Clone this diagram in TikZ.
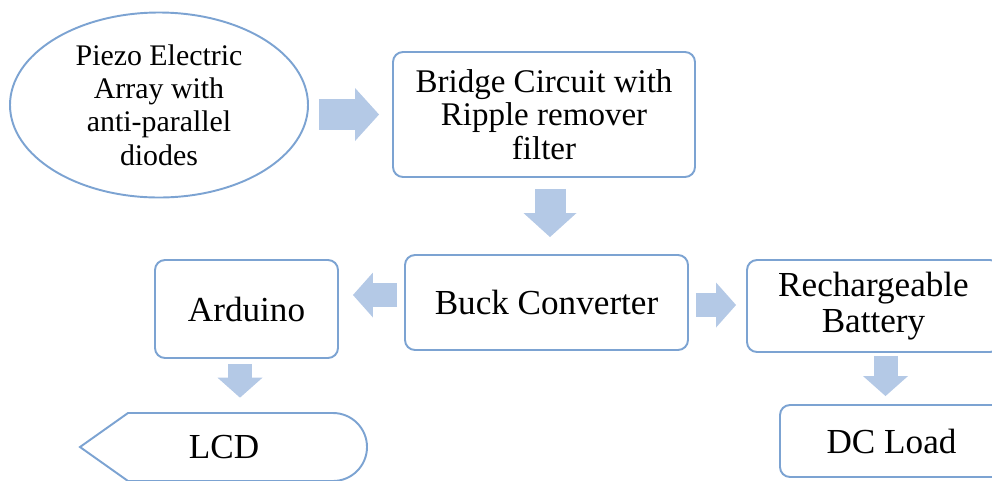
\documentclass[tikz,border=0pt]{standalone}
\usepackage{fontspec}
\setmainfont{Liberation Serif}
\usetikzlibrary{shapes.geometric,arrows.meta}
\definecolor{boxblue}{RGB}{124,163,210}
\definecolor{arrowblue}{RGB}{180,201,230}
\begin{document}
\begin{tikzpicture}[
    block/.style={draw=boxblue,line width=1.1pt,rectangle,rounded corners=0.2cm,align=center,inner sep=0pt,font=\fontsize{20}{19}\selectfont},
    flow/.style={draw=arrowblue,line width=0.48cm,-{Triangle[width=0.9cm,length=0.4cm,line width=0pt,fill=arrowblue]}},
    flow big/.style={draw=arrowblue,line width=0.62cm,-{Triangle[width=1.06cm,length=0.48cm,line width=0pt,fill=arrowblue]}}
  ]
        \useasboundingbox (0,0) rectangle (19.84,-9.6);
        %% Source
        \node[draw=boxblue,line width=1.1pt,ellipse,minimum width=5.96cm,minimum height=3.7cm,inner sep=0pt,align=center,font=\fontsize{17}{19}\selectfont] (piezo) at (3.18,-2.10) {Piezo Electric\\Array with\\anti-parallel\\diodes};
        %% Blocks
        \node[block,minimum width=6.04cm,minimum height=2.5cm,font=\fontsize{18.8}{19}\selectfont] (bridge) at (10.88,-2.29) {Bridge Circuit with\\Ripple remover\\filter};
        \node[block,minimum width=5.66cm,minimum height=1.9cm] (buck) at (10.93,-6.05) {Buck Converter};
        \node[block,minimum width=3.66cm,minimum height=1.96cm] (arduino) at (4.93,-6.18) {Arduino};
        \node[block,minimum width=5.06cm,minimum height=1.84cm,font=\fontsize{20}{20.5}\selectfont] (battery) at (17.47,-6.12) {Rechargeable\\Battery};
        \node[block,minimum width=4.46cm,minimum height=1.44cm] (dcload) at (17.83,-8.82) {DC Load};
        %% Display
        \draw[draw=boxblue,line width=1.1pt] (1.6,-8.94) -- (2.56,-8.26) -- (6.66,-8.26) arc[start angle=90,end angle=-90,radius=0.68] -- (2.56,-9.62) -- cycle;
        \node[inner sep=0pt,minimum height=1.36cm,font=\fontsize{20}{19}\selectfont] (lcd) at (4.48,-8.94) {LCD};
        %% Arrows
        \draw[flow big,shorten <=0.2cm,shorten >=0.26cm] (piezo.east |- bridge.west) -- (bridge.west);
        \draw[flow big,shorten <=0.22cm,shorten >=0.34cm] ([xshift=0.12cm]bridge.south) -- ([xshift=0.12cm]bridge.south |- buck.north);
        \draw[flow,shorten <=0.14cm,shorten >=0.28cm] ([yshift=0.15cm]buck.west) -- ([yshift=0.15cm]buck.west -| arduino.east);
        \draw[flow,shorten <=0.14cm,shorten >=0.2cm] ([yshift=-0.05cm]buck.east) -- ([yshift=-0.05cm]buck.east -| battery.west);
        \draw[flow,shorten <=0.1cm,shorten >=0.3cm] ([xshift=-0.13cm]arduino.south) -- ([xshift=-0.13cm]arduino.south |- lcd.north);
        \draw[flow,shorten <=0.06cm,shorten >=0.16cm] ([xshift=0.24cm]battery.south) -- ([xshift=0.24cm]battery.south |- dcload.north);
\end{tikzpicture}
\end{document}
